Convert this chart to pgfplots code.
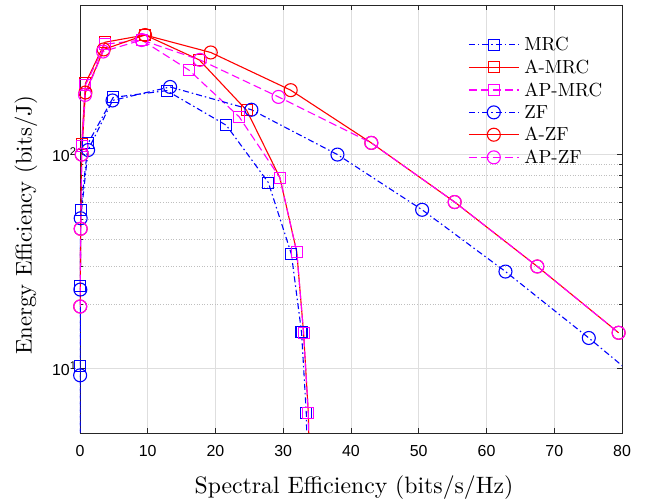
\documentclass[border=0pt]{standalone}
\usepackage{fontspec}
\setmainfont{lmroman10-regular.otf}
\newfontfamily\ticksf{Liberation Sans}
\usepackage{pgfplots}
\pgfplotsset{compat=1.18}

\definecolor{mblue}{RGB}{0,0,255}
\definecolor{mred}{RGB}{255,0,0}
\definecolor{mmag}{RGB}{255,0,255}

\newcommand{\legfont}{\fontsize{19}{22}\selectfont}

\begin{document}
\begin{tikzpicture}
\begin{axis}[
    scale only axis,
    width=542bp, height=428bp,
    ymode=log,
    xmin=0, xmax=80, ymin=5, ymax=500,
    xtick={0,10,...,80},
    ytick={10,100},
    yticklabels={10\textsuperscript{1},10\textsuperscript{2}},
    /pgf/number format/assume math mode=true,
    tick label style={font=\ticksf\fontsize{16}{19}\selectfont},
    xticklabel style={yshift=-9bp},
    tick align=inside,
    xtick pos=both, ytick pos=both,
    major tick length=5bp, minor tick length=3bp,
    axis line style={black!85, line width=0.6bp},
    every tick/.style={black!85, line width=0.6bp},
    xmajorgrids, ymajorgrids, yminorgrids,
    major grid style={black!13, line width=0.6bp},
    minor grid style={black!25, line width=0.6bp, dotted},
    xlabel={Spectral Efficiency (bits/s/Hz)},
    ylabel={Energy Efficiency (bits/J)},
    xlabel style={font=\fontsize{23.8}{27}\selectfont, at={(axis description cs:0.5,0)}, anchor=center, yshift=-55bp, xshift=3bp},
    ylabel style={font=\fontsize{22.8}{26}\selectfont, at={(axis description cs:0,0.485)}, anchor=center, yshift=54bp},
    legend style={draw=none, fill=none, at={(rel axis cs:0.716,0.927)}, anchor=north west,
        font=\legfont, nodes={font=\legfont, inner sep=1bp}, inner sep=0pt, row sep=5.6bp,
        /tikz/every odd column/.append style={column sep=4bp}},
    legend cell align=left,
    legend image code/.code={\draw[mark repeat=2, mark phase=2] plot coordinates {(0bp,0bp) (25bp,0bp) (50bp,0bp)};},
    every axis plot/.append style={line width=1.1bp},
]
% MRC
\addplot[color=mblue, dash pattern=on 6bp off 3bp on 1.5bp off 3bp, mark=square, mark size=5.5bp, mark options={solid}] coordinates {
    (0.005,4.3) (0.02,10.3) (0.05,24.3) (0.1,55) (1.2,113) (4.9,185) (12.8,199)
    (21.6,137) (27.8,74) (31.2,34.3) (32.7,14.8) (33.4,6.2) (33.6,3)
};
% A-MRC
\addplot[color=mred, solid, mark=square, mark size=5.5bp, mark options={solid}] coordinates {
    (0.25,112) (0.8,215) (3.7,335) (9.6,362) (17.6,277) (24.6,161) (29.5,78)
    (32.0,35) (33.0,14.7) (33.7,6.2) (33.9,3)
};
% AP-MRC
\addplot[color=mmag, dash pattern=on 8bp off 4bp, mark=square, mark size=5.5bp, mark options={solid}] coordinates {
    (0.25,110) (0.8,211) (3.7,328) (9.1,343) (16.1,248) (23.5,150) (29.5,78)
    (32.0,35) (33.0,14.7) (33.7,6.2) (33.9,3)
};
% ZF
\addplot[color=mblue, dash pattern=on 6bp off 3bp on 1.5bp off 3bp, mark=o, mark size=6.5bp, mark options={solid}] coordinates {
    (0.005,4) (0.02,9.3) (0.05,23.4) (0.1,50.4) (1.2,105) (4.8,179) (13.3,207)
    (25.3,162) (38.0,100) (50.5,55.2) (62.8,28.4) (75.1,13.9) (87.4,6.6)
};
% A-ZF
\addplot[color=mred, solid, mark=o, mark size=6.5bp, mark options={solid}] coordinates {
    (0.03,19.5) (0.1,45) (0.25,100) (0.8,195) (3.5,310) (9.6,362) (19.3,300)
    (31.1,200) (43.0,113.4) (55.3,60) (67.5,30) (79.5,14.7)
};
% AP-ZF
\addplot[color=mmag, dash pattern=on 8bp off 4bp, mark=o, mark size=6.5bp, mark options={solid}] coordinates {
    (0.03,19.5) (0.1,45) (0.25,100) (0.74,190) (3.4,303) (9.1,343) (17.7,277)
    (29.3,186) (43.0,113.4) (55.3,60) (67.5,30) (79.5,14.7)
};
\legend{MRC, A-MRC, AP-MRC, ZF, A-ZF, AP-ZF}
\end{axis}
\pgfresetboundingbox
\path (-80bp,-70bp) rectangle (566bp,433bp);
\end{tikzpicture}
\end{document}
